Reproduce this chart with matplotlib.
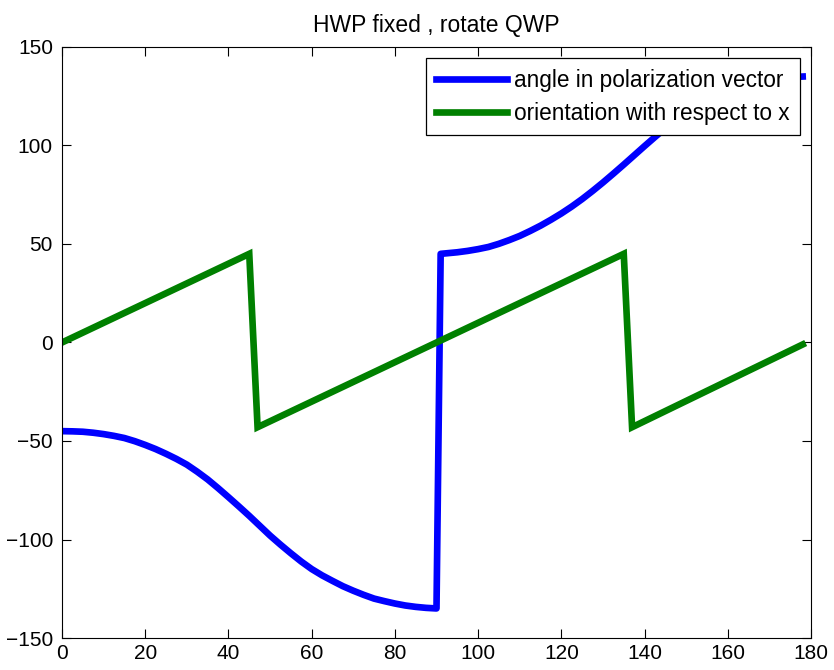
import matplotlib
matplotlib.use("Agg")
import matplotlib.pyplot as plt
from matplotlib import font_manager

# Data
blue_x = [0, 2.5, 5, 7.5, 10, 12.5, 15, 17.5, 20, 22.5, 25, 27.5, 30, 32.5, 35, 37.5, 40, 42.5, 45,
          47.5, 50, 52.5, 55, 57.5, 60, 62.5, 65, 67.5, 70, 72.5, 75, 77.5, 80, 82.5, 85, 87.5, 90,
          91, 92.5, 95, 97.5, 100, 102.5, 105, 107.5, 110, 112.5, 115, 117.5, 120, 122.5, 125, 127.5,
          130, 132.5, 135, 137.5, 140, 142.5, 145, 150, 155, 160, 165, 170, 175, 178]
blue_y = [-45, -45.1, -45.3, -45.8, -46.5, -47.4, -48.5, -50.1, -52, -54.1, -56.5, -59.1, -62, -65.6, -69.5, -73.9, -78.5, -83.2, -88,
          -93, -98, -102.6, -107, -111.2, -115, -118.2, -121, -123.7, -126, -128.1, -130, -131.3, -132.5, -133.5, -134.2, -134.7, -135,
          45, 45.3, 45.8, 46.5, 47.4, 48.5, 50.1, 52, 54.1, 56.6, 59.3, 62.3, 65.5, 69, 72.8, 76.9,
          81.2, 85.7, 90.3, 95, 99.7, 104.3, 108.8, 117, 123.5, 128, 131.5, 133.5, 134.7, 135]

green_x = [0, 45, 47, 135, 137, 178]
green_y = [0, 45, -43, 45, -43, -1]

title = "HWP fixed , rotate QWP"
labels = ["angle in polarization vector", "orientation with respect to x"]
xticks = [0, 20, 40, 60, 80, 100, 120, 140, 160, 180]
yticks = [-150, -100, -50, 0, 50, 100, 150]

plt.rcParams['font.family'] = ['Liberation Sans', 'DejaVu Sans']
names = {f.name for f in font_manager.fontManager.ttflist}
tick_family = 'Liberation Sans Narrow' if 'Liberation Sans Narrow' in names else 'Liberation Sans'
tick_size = 17 if tick_family == 'Liberation Sans Narrow' else 15

fig = plt.figure(figsize=(8.34, 6.70), dpi=100)
ax = fig.add_axes([62/834, 1 - 638/670, (811-62)/834, (638-47)/670])

ax.plot(blue_x, blue_y, color=(0, 0, 1), lw=4.8, label=labels[0])
ax.plot(green_x, green_y, color=(0, 0.5, 0), lw=4.8, label=labels[1], solid_joinstyle='miter')

ax.set_xlim(0, 180)
ax.set_ylim(-150, 150)
ax.set_xticks(xticks)
ax.set_yticks(yticks)
ax.tick_params(direction='in', length=6.5, width=0.8, top=True, right=True, colors='black')
ax.tick_params(axis='x', pad=4.5)
ax.tick_params(axis='y', pad=6.5)
for lab in ax.get_xticklabels() + ax.get_yticklabels():
    lab.set_family(tick_family)
    lab.set_fontsize(tick_size)
for s in ax.spines.values():
    s.set_linewidth(0.8)

ax.set_title(title, fontsize=16.5, pad=11)

leg = ax.legend(loc='upper right', fontsize=16.3, frameon=True, fancybox=False,
                edgecolor='black', framealpha=1, handlelength=3.1,
                borderaxespad=0.5, borderpad=0.45, labelspacing=0.47, handletextpad=0.32)
leg.get_frame().set_linewidth(0.9)

fig.savefig("out.png", dpi=100)
